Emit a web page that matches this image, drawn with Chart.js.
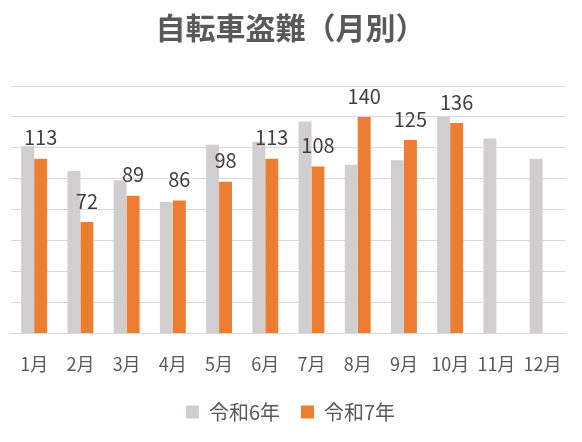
<!DOCTYPE html>
<html>
<head>
<meta charset="utf-8">
<script src="https://cdn.jsdelivr.net/npm/chart.js@4"></script>
<style>
  html, body { margin: 0; padding: 0; background: #fff; }
  #wrap { width: 582px; height: 442px; }
</style>
</head>
<body>
<div id="wrap"><canvas id="theftChart"></canvas></div>
<script>
const months = ['1月', '2月', '3月', '4月', '5月', '6月', '7月', '8月', '9月', '10月', '11月', '12月'];
const r6Values = [121, 105, 99, 85, 122, 124, 137, 109, 112, 140, 126, 113];
const r7Values = [113, 72, 89, 86, 98, 113, 108, 140, 125, 136, null, null];
const seriesNames = ['令和6年', '令和7年'];

const FONT = '"Noto Sans CJK JP", "Noto Sans", sans-serif';

// value labels above the orange bars
const barLabels = {
    id: 'barLabels',
    afterDatasetsDraw(chart) {
        const ctx = chart.ctx;
        const meta = chart.getDatasetMeta(1);
        ctx.save();
        ctx.font = '20px ' + FONT;
        ctx.fillStyle = '#404040';
        ctx.textAlign = 'center';
        ctx.textBaseline = 'middle';
        meta.data.forEach((bar, i) => {
            const v = r7Values[i];
            if (v == null) return;
            ctx.fillText(String(v), bar.x, bar.y - 21);
        });
        ctx.restore();
    }
};

document.addEventListener('DOMContentLoaded', () => {
    const theftCtx = document.getElementById('theftChart');
    new Chart(theftCtx, {
        type: 'bar',
        data: {
            labels: months,
            datasets: [{
                label: seriesNames[0],
                data: r6Values,
                backgroundColor: '#d0cece'
            }, {
                label: seriesNames[1],
                data: r7Values,
                backgroundColor: '#ed7d31'
            }]
        },
        options: {
            responsive: true,
            maintainAspectRatio: false,
            animation: false,
            layout: {
                padding: { left: 10, right: 11, top: 0, bottom: 10 }
            },
            datasets: {
                bar: {
                    categoryPercentage: 0.56,
                    barPercentage: 1.0
                }
            },
            scales: {
                x: {
                    grid: { display: false, drawTicks: false },
                    border: { display: false },
                    ticks: {
                        padding: 20,
                        color: '#595959',
                        font: { family: FONT, size: 18 }
                    },
                    // pull the legend closer without moving the labels
                    afterFit: (scale) => { scale.height -= 14; }
                },
                y: {
                    min: 0,
                    max: 160,
                    ticks: { display: false, stepSize: 20 },
                    grid: { color: '#d9d9d9', lineWidth: 1, drawTicks: false },
                    border: { display: false }
                }
            },
            plugins: {
                title: {
                    display: true,
                    text: '自転車盗難（月別）',
                    color: '#595959',
                    font: { family: FONT, size: 30, weight: 'bold' },
                    padding: { top: 10, bottom: 40 }
                },
                legend: {
                    position: 'bottom',
                    labels: {
                        boxWidth: 13,
                        boxHeight: 13,
                        padding: 21,
                        color: '#595959',
                        font: { family: FONT, size: 20 }
                    }
                },
                tooltip: { enabled: false }
            }
        },
        plugins: [barLabels]
    });
});
</script>
</body>
</html>
